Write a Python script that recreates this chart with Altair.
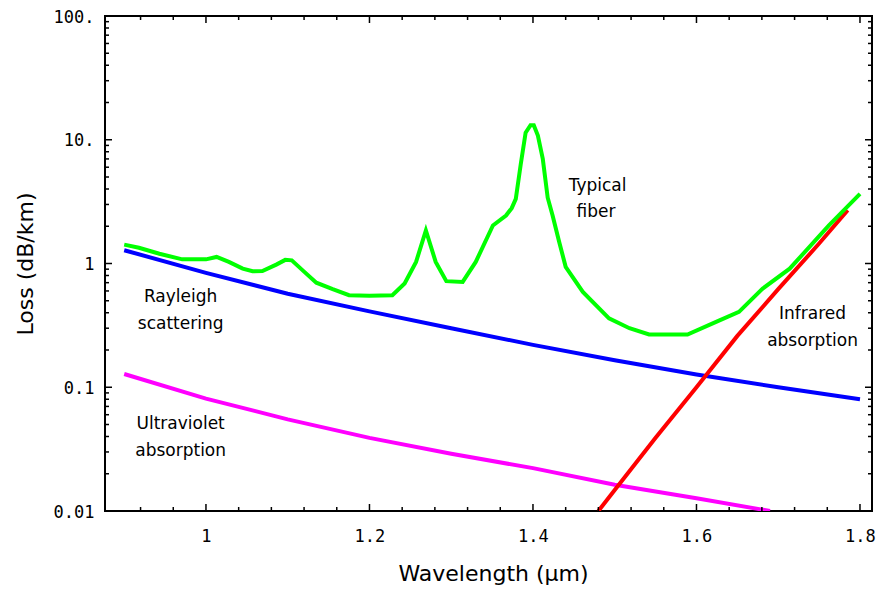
import altair as alt
import pandas as pd

# ---- data ----
wl_fiber = [0.900, 0.918, 0.943, 0.971, 1.000, 1.013, 1.028, 1.045, 1.057, 1.069,
            1.086, 1.097, 1.105, 1.120, 1.135, 1.155, 1.175, 1.200, 1.228, 1.243,
            1.257, 1.269, 1.281, 1.294, 1.314, 1.330, 1.351, 1.367, 1.374, 1.379,
            1.385, 1.391, 1.397, 1.401, 1.406, 1.412, 1.418, 1.424, 1.432, 1.440,
            1.461, 1.493, 1.518, 1.542, 1.589, 1.624, 1.652, 1.681, 1.714, 1.762,
            1.800]
loss_fiber = [1.42, 1.34, 1.20, 1.08, 1.08, 1.13, 1.03, 0.91, 0.865, 0.87,
              0.98, 1.07, 1.06, 0.86, 0.70, 0.62, 0.555, 0.55, 0.555, 0.69,
              1.03, 1.85, 1.03, 0.72, 0.71, 1.03, 2.03, 2.44, 2.8, 3.33,
              6.3, 11.4, 13.1, 13.1, 10.8, 7.0, 3.4, 2.44, 1.5, 0.94,
              0.59, 0.36, 0.30, 0.267, 0.267, 0.338, 0.407, 0.627, 0.908, 2.03,
              3.65]

wl_rayleigh = [0.9, 1.0, 1.1, 1.2, 1.3, 1.4, 1.5, 1.6, 1.7, 1.8]
loss_rayleigh = [1.28, 0.84, 0.57, 0.41, 0.30, 0.22, 0.165, 0.127, 0.100, 0.080]

wl_uv = [0.9, 1.0, 1.1, 1.2, 1.3, 1.4, 1.5, 1.6, 1.69]
loss_uv = [0.128, 0.081, 0.055, 0.039, 0.029, 0.0222, 0.0163, 0.0127, 0.0100]

wl_ir = [1.48, 1.50, 1.55, 1.60, 1.65, 1.70, 1.75, 1.785]
loss_ir = [0.0100, 0.0148, 0.039, 0.100, 0.26, 0.62, 1.45, 2.7]

label_text = ["Typical", "fiber", "Rayleigh", "scattering", "Ultraviolet", "absorption",
              "Infrared", "absorption"]
label_wl = [1.479, 1.477, 0.969, 0.969, 0.969, 0.969, 1.742, 1.742]
label_loss = [4.26, 2.59, 0.537, 0.326, 0.0501, 0.0304, 0.394, 0.237]

x_tick_values = [1.0, 1.2, 1.4, 1.6, 1.8]
x_tick_labels = ["1", "1.2", "1.4", "1.6", "1.8"]
x_minor_ticks = [0.92, 0.96, 1.04, 1.08, 1.12, 1.16, 1.24, 1.28, 1.32, 1.36,
                 1.44, 1.48, 1.52, 1.56, 1.64, 1.68, 1.72, 1.76]
y_tick_values = [0.01, 0.1, 1, 10, 100]
y_tick_labels = ["0.01", "0.1", "1", "10.", "100."]
y_minor_ticks = [m * d for d in [0.01, 0.1, 1, 10] for m in [2, 3, 4, 5, 6, 7, 8, 9]]

# ---- chart ----
W, H = 767, 495
x_scale = alt.Scale(domain=[0.8765, 1.8147], nice=False, zero=False)
y_scale = alt.Scale(type="log", domain=[0.01, 100], nice=False)


def label_expr(values, labels):
    expr = "''"
    for v, l in zip(values, labels):
        expr = f"abs(datum.value - {v}) < {v * 1e-6} ? '{l}' : ({expr})"
    return expr


x_axis = alt.Axis(values=x_tick_values, labelExpr=label_expr(x_tick_values, x_tick_labels),
                  ticks=False, domain=False, grid=False, labelFont="DejaVu Sans Mono",
                  labelFontSize=17, labelColor="black", labelPadding=17, labelBaseline="top",
                  title="Wavelength (μm)", titleFont="DejaVu Sans", titleFontSize=22,
                  titleFontWeight="normal", titleColor="black", titleX=388, titleY=62,
                  titleBaseline="middle", titleAlign="center")
y_axis = alt.Axis(values=y_tick_values, labelExpr=label_expr(y_tick_values, y_tick_labels),
                  ticks=False, domain=False, grid=False, labelFont="DejaVu Sans Mono",
                  labelFontSize=17, labelColor="black", labelPadding=11, labelOffset=1,
                  title="Loss (dB/km)", titleFont="DejaVu Sans", titleFontSize=22,
                  titleFontWeight="normal", titleColor="black", titleX=-80, titleY=H / 2,
                  titleAngle=-90, titleBaseline="middle", titleAlign="center")


def X():
    return alt.X("wl:Q", scale=x_scale, axis=x_axis)


def Y():
    return alt.Y("loss:Q", scale=y_scale, axis=y_axis)


def line_layer(wls, losses, color):
    d = pd.DataFrame({"wl": wls, "loss": losses})
    return alt.Chart(d).mark_line(color=color, strokeWidth=4, clip=True).encode(x=X(), y=Y())


blue = line_layer(wl_rayleigh, loss_rayleigh, "#0000ff")
magenta = line_layer(wl_uv, loss_uv, "#ff00ff")
red = line_layer(wl_ir, loss_ir, "#ff0000")
green = line_layer(wl_fiber, loss_fiber, "#00ff00")

labels_df = pd.DataFrame({"wl": label_wl, "loss": label_loss, "text": label_text})
labels = alt.Chart(labels_df).mark_text(font="DejaVu Sans", fontSize=17, color="black",
                                        align="center", baseline="middle").encode(
    x=X(), y=Y(), text="text:N")

xmaj = pd.DataFrame({"wl": x_tick_values})
xmin = pd.DataFrame({"wl": x_minor_ticks})
ymaj = pd.DataFrame({"loss": y_tick_values})
ymin = pd.DataFrame({"loss": y_minor_ticks})

tick_layers = []
for d, ln in [(xmaj, 7), (xmin, 4)]:
    tick_layers.append(alt.Chart(d).mark_rule(color="black", strokeWidth=1.5).encode(
        x=X(), y=alt.value(H), y2=alt.value(H - ln)))
    tick_layers.append(alt.Chart(d).mark_rule(color="black", strokeWidth=1.5).encode(
        x=X(), y=alt.value(0), y2=alt.value(ln)))
for d, ln in [(ymaj, 7), (ymin, 4)]:
    tick_layers.append(alt.Chart(d).mark_rule(color="black", strokeWidth=1.5).encode(
        y=Y(), x=alt.value(0), x2=alt.value(ln)))
    tick_layers.append(alt.Chart(d).mark_rule(color="black", strokeWidth=1.5).encode(
        y=Y(), x=alt.value(W), x2=alt.value(W - ln)))

chart = alt.layer(blue, magenta, red, green, labels, *tick_layers).properties(
    width=W, height=H,
    background="white",
    autosize=alt.AutoSizeParams(type="none"),
    padding={"left": 97, "top": 8, "right": 4, "bottom": 77},
).configure_view(stroke="black", strokeWidth=2)

chart.save("out.html", embed_options={"renderer": "svg", "actions": False})
